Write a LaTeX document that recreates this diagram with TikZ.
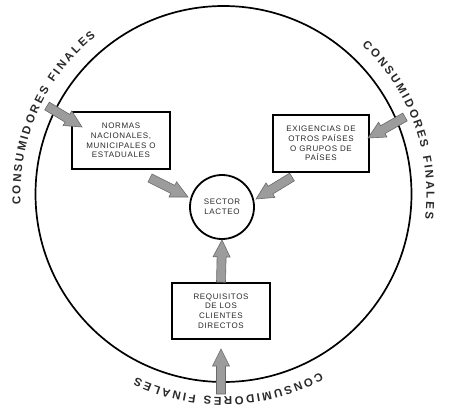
\documentclass[tikz,border=0pt]{standalone}
\usepackage{fontspec}
\setmainfont{Liberation Sans}
\newfontfamily\boxfont[LetterSpace=8]{Liberation Sans}
\newfontfamily\arcfont{Liberation Sans Bold}
\usetikzlibrary{calc,decorations.text}
\definecolor{txt}{HTML}{2A2A2A}
\definecolor{afill}{HTML}{9C9C9C}
\definecolor{aline}{HTML}{6A6A6A}
\newcommand\fatarrow[2]{%
  \path (#2) coordinate (faT) ($(#2)!17pt!(#1)$) coordinate (faH);
  \filldraw[arrowbody]
    ($(#1)!4.5pt!90:(faT)$) -- ($(faH)!4.5pt!90:(faT)$) -- ($(faH)!8.5pt!90:(faT)$)
    -- (faT) -- ($(faH)!8.5pt!-90:(faT)$) -- ($(faH)!4.5pt!-90:(faT)$)
    -- ($(#1)!4.5pt!-90:(faT)$) -- cycle;}
\tikzset{
  arrowbody/.style={fill=afill, draw=aline, line width=0.6pt, line join=miter},
  infobox/.style={draw, line width=1.7pt, rectangle, inner sep=0pt, align=center,
    text=txt, font=\boxfont\fontsize{8}{9.7}\selectfont},
  arctext/.style={decorate, decoration={text along path,
    text={|\arcfont\fontsize{11.5}{13}\selectfont\color{txt}|CONSUMIDORES FINALES},
    text align={fit to path}}}
}
\begin{document}
\begin{tikzpicture}[x=1pt,y=1pt]
\useasboundingbox (0,0) rectangle (450,-416);
\fill[white] (0,0) rectangle (450,-416);
\node[circle, draw, line width=1.7pt, minimum size=376pt, inner sep=0pt] (outer) at (223.5,-194) {};
\coordinate (c) at (223.5,-194);
\node[circle, draw, line width=1.8pt, minimum size=64pt, inner sep=0pt, align=center,
  text=txt, font=\boxfont\fontsize{8}{9.7}\selectfont] (sector) at (222,-207) {SECTOR\\LACTEO};
\node[infobox, minimum width=98pt, minimum height=57pt] (normas) at (121,-140.5)
  {NORMAS\\NACIONALES,\\MUNICIPALES O\\ESTADUALES};
\node[infobox, minimum width=96pt, minimum height=57pt] (exig) at (321,-143.5)
  {EXIGENCIAS DE\\OTROS PAÍSES\\O GRUPOS DE\\PAÍSES};
\node[infobox, minimum width=98pt, minimum height=56pt] (req) at (221,-311)
  {REQUISITOS\\DE LOS\\CLIENTES\\DIRECTOS};
\path[arctext] (c) ++(183:203pt) arc[start angle=183, end angle=129, radius=203pt];
\path[arctext] (c) ++(47:203pt) arc[start angle=47, end angle=-7, radius=203pt];
\path[arctext] (c) ++(-61.5:203pt) arc[start angle=-61.5, end angle=-115.5, radius=203pt];
\coordinate (a1s) at (47,-106);
\coordinate (a1e) at (82,-127);
\coordinate (a2s) at (150,-178);
\coordinate (a2e) at (188,-197);
\coordinate (a3s) at (405,-117);
\coordinate (a3e) at (368,-138);
\coordinate (a4s) at (292,-177);
\coordinate (a4e) at (256,-199);
\coordinate (a6s) at (221,-394);
\coordinate (a6e) at (221,-349);
\fatarrow{a1s}{a1e}
\fatarrow{a2s}{a2e}
\fatarrow{a3s}{a3e}
\fatarrow{a4s}{a4e}
\fatarrow{req.north}{sector.south}
\fatarrow{a6s}{a6e}
\end{tikzpicture}
\end{document}
